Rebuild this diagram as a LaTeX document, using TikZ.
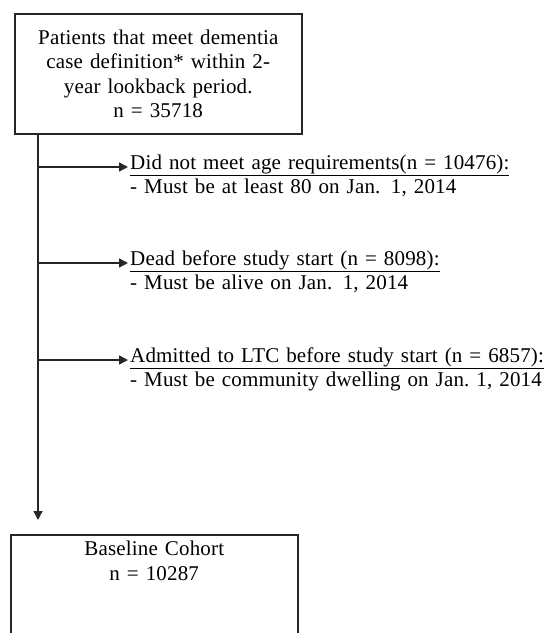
\documentclass[tikz,border=0pt]{standalone}
\usepackage{fontspec}
\setmainfont{Liberation Serif}[LetterSpace=0.8]
\usetikzlibrary{arrows.meta,positioning}
\tikzset{
  boxnode/.style={draw=black!85, line width=1.5pt, align=center, minimum width=285pt, inner sep=6pt},
  exnode/.style={anchor=base west, align=left, text width=418pt, inner sep=2pt, font=\fontsize{21}{24}\selectfont},
  flow/.style={draw=black!85, line width=1.5pt, -{Triangle[length=9pt,width=9pt]}}
}
\begin{document}
\begin{tikzpicture}[x=1pt,y=-1pt]  %pixel grid of the flow chart
	\clip (0,0) rectangle (551,633);
		%Boxes
	\node[boxnode, anchor=north west, minimum height=120pt, text width=275pt,
	      font=\fontsize{21}{24.5}\selectfont] (patients) at (14,13)
	      {Patients that meet dementia\\case definition* within 2-\\year lookback period.\\n = 35718};
	\node[boxnode, anchor=north west, text width=275pt, text depth=90pt,
	      font=\fontsize{21}{25}\selectfont] (cohort) at (10,534)
	      {Baseline Cohort\\n = 10287};
		%Exclusions
	\node[exnode] (age) at (128,169)
	      {\underline{Did not meet age requirements(n = 10476):}\\- Must be at least 80 on Jan. 1, 2014};
	\node[exnode] (dead) at (128,265)
	      {\underline{Dead before study start (n = 8098):}\\- Must be alive\ on Jan. 1, 2014};
	\node[exnode] (ltc) at (128,362)
	      {\underline{Admitted to LTC before study start (n = 6857):}\\- Must be community dwelling on Jan.~1,~2014};
		%Trunk and branches
	\coordinate (top) at ([xshift=24pt]patients.south west);
	\coordinate (b1) at (top |- 0,167);
	\coordinate (b2) at (top |- 0,263);
	\coordinate (b3) at (top |- 0,360);
	\draw[flow, shorten >=14pt] (top) -- (top |- cohort.north);
	\draw[flow] (b1) -- (b1 -| age.west); %to age
	\draw[flow] (b2) -- (b2 -| dead.west); %to dead
	\draw[flow] (b3) -- (b3 -| ltc.west); %to ltc
\end{tikzpicture}
\end{document}
